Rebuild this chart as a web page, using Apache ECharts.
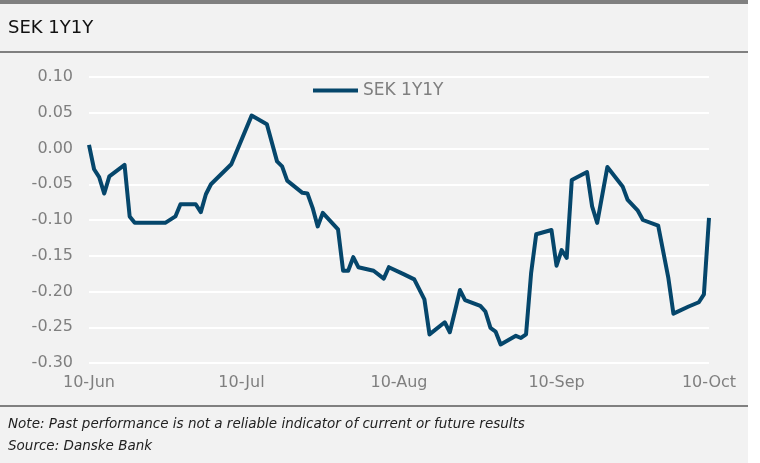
<!DOCTYPE html>
<html>
<head>
<meta charset="utf-8">
<script src="https://cdn.jsdelivr.net/npm/echarts@6/dist/echarts.min.js"></script>
<style>
  html, body { margin:0; padding:0; background:#ffffff; }
  #wrap { position:relative; width:760px; height:463px; overflow:hidden; }
  .bg { position:absolute; }
  #chart { position:absolute; left:0; top:0; width:760px; height:463px; }
</style>
</head>
<body>
<div id="wrap">
  <div class="bg" style="left:0;top:0;width:748px;height:4px;background:#808080"></div>
  <div class="bg" style="left:0;top:4px;width:748px;height:47px;background:#f2f2f2"></div>
  <div class="bg" style="left:0;top:51px;width:748px;height:2px;background:#808080"></div>
  <div class="bg" style="left:0;top:53px;width:748px;height:352px;background:#f2f2f2"></div>
  <div class="bg" style="left:0;top:405px;width:748px;height:2px;background:#808080"></div>
  <div class="bg" style="left:0;top:407px;width:748px;height:56px;background:#f2f2f2"></div>
  <div id="chart"></div>
</div>
<script>
// ---- data ----
const titleText = 'SEK 1Y1Y';
const seriesName = 'SEK 1Y1Y';
const noteText = 'Note: Past performance is not a reliable indicator of current or future results';
const sourceText = 'Source: Danske Bank';

const dates = [
  '2019-06-10','2019-06-11','2019-06-12','2019-06-13','2019-06-14','2019-06-17','2019-06-18','2019-06-19',
  '2019-06-25','2019-06-27','2019-06-28','2019-07-01','2019-07-02','2019-07-03','2019-07-04','2019-07-08',
  '2019-07-12','2019-07-15','2019-07-17','2019-07-18','2019-07-19','2019-07-22','2019-07-23','2019-07-24',
  '2019-07-25','2019-07-26','2019-07-29','2019-07-30','2019-07-31','2019-08-01','2019-08-02','2019-08-05',
  '2019-08-07','2019-08-08','2019-08-11','2019-08-13','2019-08-15','2019-08-16','2019-08-19','2019-08-20',
  '2019-08-21','2019-08-22','2019-08-23','2019-08-26','2019-08-27','2019-08-28','2019-08-29','2019-08-30',
  '2019-09-02','2019-09-03','2019-09-04','2019-09-05','2019-09-06','2019-09-09','2019-09-10','2019-09-11',
  '2019-09-12','2019-09-13','2019-09-16','2019-09-17','2019-09-18','2019-09-20','2019-09-23','2019-09-24',
  '2019-09-26','2019-09-27','2019-09-30','2019-10-02','2019-10-03','2019-10-06','2019-10-08','2019-10-09',
  '2019-10-10'
];
const values = [
  0.005,-0.029,-0.040,-0.063,-0.039,-0.023,-0.095,-0.104,
  -0.104,-0.095,-0.078,-0.078,-0.089,-0.064,-0.050,-0.022,
  0.046,0.034,-0.018,-0.025,-0.045,-0.062,-0.063,-0.083,
  -0.109,-0.090,-0.113,-0.171,-0.171,-0.152,-0.166,-0.171,
  -0.182,-0.166,-0.176,-0.183,-0.211,-0.260,-0.243,-0.257,
  -0.228,-0.198,-0.212,-0.220,-0.228,-0.251,-0.256,-0.274,
  -0.262,-0.265,-0.260,-0.174,-0.120,-0.114,-0.164,-0.142,
  -0.153,-0.044,-0.033,-0.081,-0.104,-0.026,-0.053,-0.072,
  -0.087,-0.100,-0.108,-0.181,-0.231,-0.221,-0.215,-0.204,
  -0.097
];
const tickDates = ['2019-06-10','2019-07-10','2019-08-10','2019-09-10','2019-10-10'];
const tickLabels = ['10-Jun','10-Jul','10-Aug','10-Sep','10-Oct'];
const yMin = -0.30, yMax = 0.10, yStep = 0.05;

// ---- chart ----
// x is measured in days since the first date (a linear date scale)
function dayNum(s){ const p = s.split('-').map(Number); return Math.round(Date.UTC(p[0], p[1]-1, p[2]) / 86400000); }
const day0 = dayNum(dates[0]);
const xOf = s => dayNum(s) - day0;
const tickX = tickDates.map(xOf);
const chart = echarts.init(document.getElementById('chart'), null, {renderer:'canvas'});
const labelFont = 'DejaVu Sans';
const lineColor = '#05466b';
chart.setOption({
  animation:false,
  backgroundColor:'transparent',
  title:[
    {text:titleText, left:3, top:14, textStyle:{fontFamily:labelFont, fontSize:18, fontWeight:'normal', color:'#111111'}},
    {text:noteText, left:3, top:412, textStyle:{fontFamily:labelFont, fontStyle:'italic', fontSize:13.5, fontWeight:'normal', color:'#222222'}},
    {text:sourceText, left:3, top:434, textStyle:{fontFamily:labelFont, fontStyle:'italic', fontSize:13.5, fontWeight:'normal', color:'#222222'}}
  ],
  legend:{
    left:308, top:77, icon:'rect', itemWidth:45, itemHeight:4, itemGap:5,
    textStyle:{fontFamily:labelFont, fontSize:17, color:'#7f7f7f'},
    data:[{name:seriesName, itemStyle:{color:lineColor}}]
  },
  grid:{left:89, right:51, top:77, bottom:100, containLabel:false},
  xAxis:{
    type:'value', min:tickX[0], max:tickX[tickX.length-1],
    axisLine:{show:false}, axisTick:{show:false}, splitLine:{show:false},
    axisLabel:{
      customValues:tickX, margin:12,
      fontFamily:labelFont, fontSize:16, color:'#7f7f7f',
      formatter:function(v){ const i = tickX.indexOf(v); return i>=0 ? tickLabels[i] : ''; }
    }
  },
  yAxis:{
    type:'value', min:yMin, max:yMax, interval:yStep,
    axisLine:{show:false}, axisTick:{show:false},
    splitLine:{show:true, lineStyle:{color:'#ffffff', width:2}},
    axisLabel:{margin:16, fontFamily:labelFont, fontSize:16, color:'#7f7f7f',
      formatter:function(v){ return v.toFixed(2); }}
  },
  series:[{
    name:seriesName, type:'line', symbol:'none', smooth:false,
    lineStyle:{color:lineColor, width:4, join:'round'},
    itemStyle:{color:lineColor},
    data:dates.map((d,i)=>[xOf(d), values[i]])
  }]
});
</script>
</body>
</html>
